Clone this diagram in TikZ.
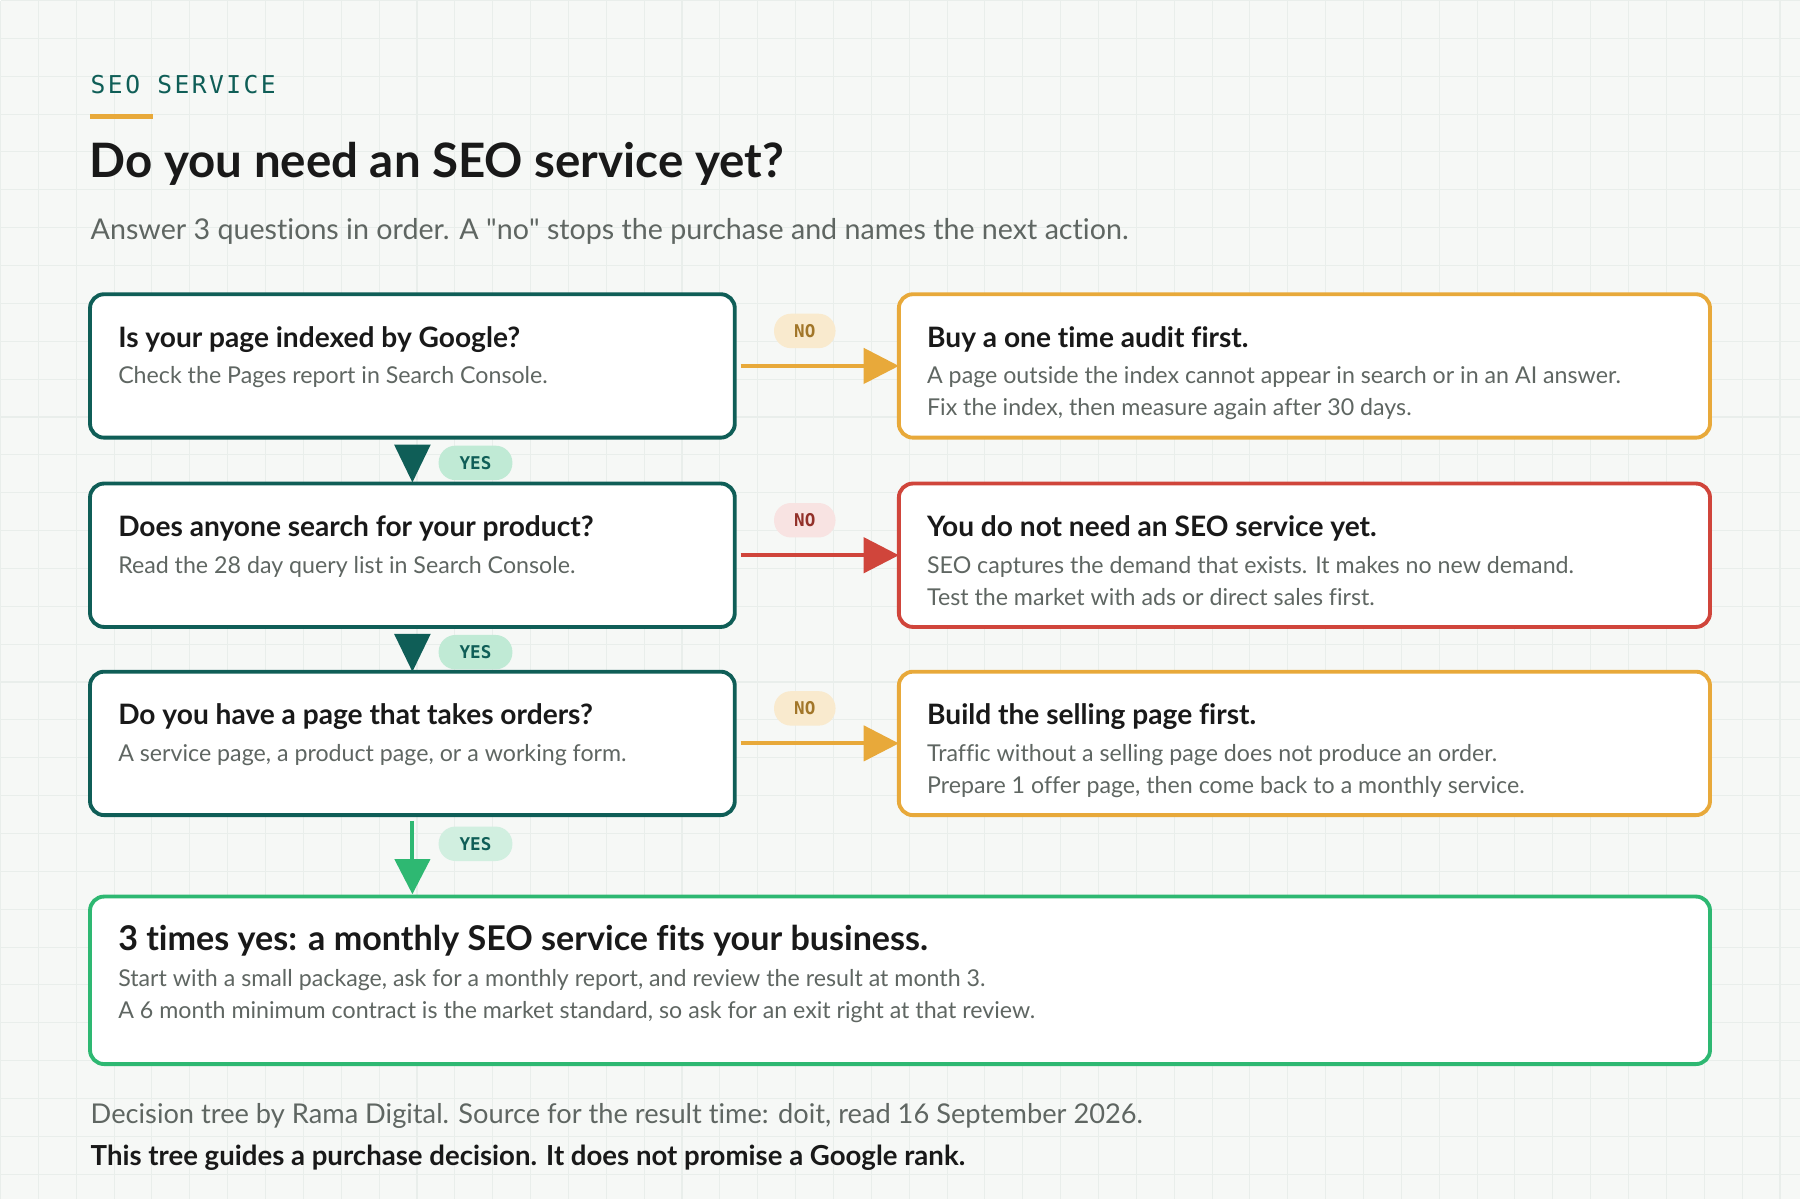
\documentclass[tikz,border=0pt]{standalone}
\usepackage{fontspec}
\setmainfont{Lato}[Ligatures=NoCommon]
\newfontfamily\monofnt{DejaVu Sans Mono}
\usetikzlibrary{arrows.meta,positioning,calc}
\definecolor{teal}{HTML}{0F5E57}
\definecolor{seoorange}{HTML}{E8A93A}
\definecolor{seored}{HTML}{D0453B}
\definecolor{seogreen}{HTML}{2EB872}
\definecolor{txtgray}{HTML}{5F6662}
\definecolor{gridc}{HTML}{E9EEEB}
\definecolor{bgc}{HTML}{F6F8F6}
\begin{document}
\begin{tikzpicture}[x=0.011480cm, y=-0.011480cm, every node/.style={inner sep=0pt}]
  % -----------------------------
  % STYLES
  % -----------------------------
  \tikzset{
    qbox/.style={draw=teal, line width=1.1pt, rounded corners=4pt, fill=white},
    abox/.style={draw=#1, line width=1.1pt, rounded corners=4pt, fill=white},
    btitle/.style={anchor=base west, font=\bfseries\fontsize{8}{9}\selectfont, text=black!90},
    btext/.style={anchor=base west, font=\fontsize{6.6}{9}\selectfont, text=txtgray},
    pill/.style={rounded corners=4.8pt, minimum width=17.5pt, minimum height=9.8pt, font=\monofnt\bfseries\fontsize{5}{6}\selectfont},
    nopill/.style={pill, fill=#1},
    yespill/.style={pill, fill=#1, minimum width=21pt, text=teal},
    noarrow/.style={draw=#1, line width=1.1pt, -{Triangle[length=10pt, width=10pt]}},
  }

  % -----------------------------
  % BACKGROUND + GRID
  % -----------------------------
  \fill[bgc] (0,0) rectangle (1568,1045);
  \foreach \g in {0,33,...,1568} \draw[gridc, line width=0.3pt] (\g,0) -- (\g,1045);
  \foreach \g in {0,33,...,1045} \draw[gridc, line width=0.3pt] (0,\g) -- (1568,\g);
  \useasboundingbox (0,0) rectangle (1568,1045);

  % -----------------------------
  % HEADER
  % -----------------------------
  \def\ls{\hspace{0.7pt}}
  \node[anchor=base west, text=teal, font=\monofnt\fontsize{7}{8}\selectfont] (kicker) at (78,81) {S\ls E\ls O\ls\ S\ls E\ls R\ls V\ls I\ls C\ls E};
  \draw[seoorange, line width=1.3pt] (78,101) -- (133,101);
  \node[anchor=base west, font=\bfseries\fontsize{13.5}{16}\selectfont, text=black!90] (title) at (77,154) {Do you need an SEO service yet?};
  \node[anchor=base west, font=\fontsize{8.15}{10}\selectfont, text=txtgray] (subtitle) at (78,208) {Answer 3 questions in order. A \textquotedbl no\textquotedbl\ stops the purchase and names the next action.};

  % -----------------------------
  % QUESTIONS AND ANSWERS
  % -----------------------------
  \foreach \n/\y/\col/\pcol/\qa/\qb/\aa/\ab/\ac in {
    1/256/seoorange/seoorange!25/{Is your page indexed by Google?}/{Check the Pages report in Search Console.}/{Buy a one time audit first.}/{A page outside the index cannot appear in search or in an AI answer.}/{Fix the index, then measure again after 30 days.},
    2/421/seored/seored!15/{Does anyone search for your product?}/{Read the 28 day query list in Search Console.}/{You do not need an SEO service yet.}/{SEO captures the demand that exists. It makes no new demand.}/{Test the market with ads or direct sales first.},
    3/585/seoorange/seoorange!25/{Do you have a page that takes orders?}/{A service page, a product page, or a working form.}/{Build the selling page first.}/{Traffic without a selling page does not produce an order.}/{Prepare 1 offer page, then come back to a monthly service.}} {
    \draw[qbox] (78,\y) rectangle (640,\y+125);
    \coordinate (Q\n) at (640,\y+62.5);
    \coordinate (Qs\n) at (359,\y+125);
    \node[btitle] at (102,\y+46) {\qa};
    \node[btext] at (102,\y+78) {\qb};
    \draw[abox=\col] (783,\y) rectangle (1490,\y+125);
    \coordinate (A\n) at (783,\y+62.5);
    \node[btitle] at (807,\y+46) {\aa};
    \node[btext] at (807,\y+78) {\ab};
    \node[btext] at (807,\y+106) {\ac};
    \node[nopill=\pcol, text=\col!70!black] (no\n) at (701,\y+32) {NO};
    \draw[noarrow=\col] ($(Q\n)+(5,0)$) -- (A\n);
  }

  % -----------------------------
  % YES STEPS
  % -----------------------------
  \foreach \n/\y in {1/381,2/546} {
    \fill[teal] (343,\y+6) -- (375,\y+6) -- (359,\y+39) -- cycle;
    \node[yespill=seogreen!30] (yes\n) at (414,\y+22) {YES};
  }
  \coordinate (F) at (359,779);
  \draw[seogreen, line width=1.1pt, -{Triangle[length=10pt, width=10pt]}] ($(Qs3)+(0,5)$) -- (F);
  \node[yespill=seogreen!22] (yes3) at (414,735) {YES};

  % -----------------------------
  % FINAL RESULT
  % -----------------------------
  \draw[abox=seogreen] (78,781) rectangle (1490,927);
  \node[anchor=base west, font=\bfseries\fontsize{9.7}{11}\selectfont, text=black!90] (res) at (102,828) {3 times yes: a monthly SEO service fits your business.};
  \node[btext] at (102,859) {Start with a small package, ask for a monthly report, and review the result at month 3.};
  \node[btext] at (102,887) {A 6 month minimum contract is the market standard, so ask for an exit right at that review.};

  % -----------------------------
  % FOOTER
  % -----------------------------
  \node[anchor=base west, font=\fontsize{7.75}{9}\selectfont, text=txtgray] (src) at (78,979) {Decision tree by Rama Digital. Source for the result time: doit, read 16 September 2026.};
  \node[anchor=base west, font=\bfseries\fontsize{7.85}{9}\selectfont, text=black!90] (note) at (78,1015) {This tree guides a purchase decision. It does not promise a Google rank.};
\end{tikzpicture}
\end{document}
